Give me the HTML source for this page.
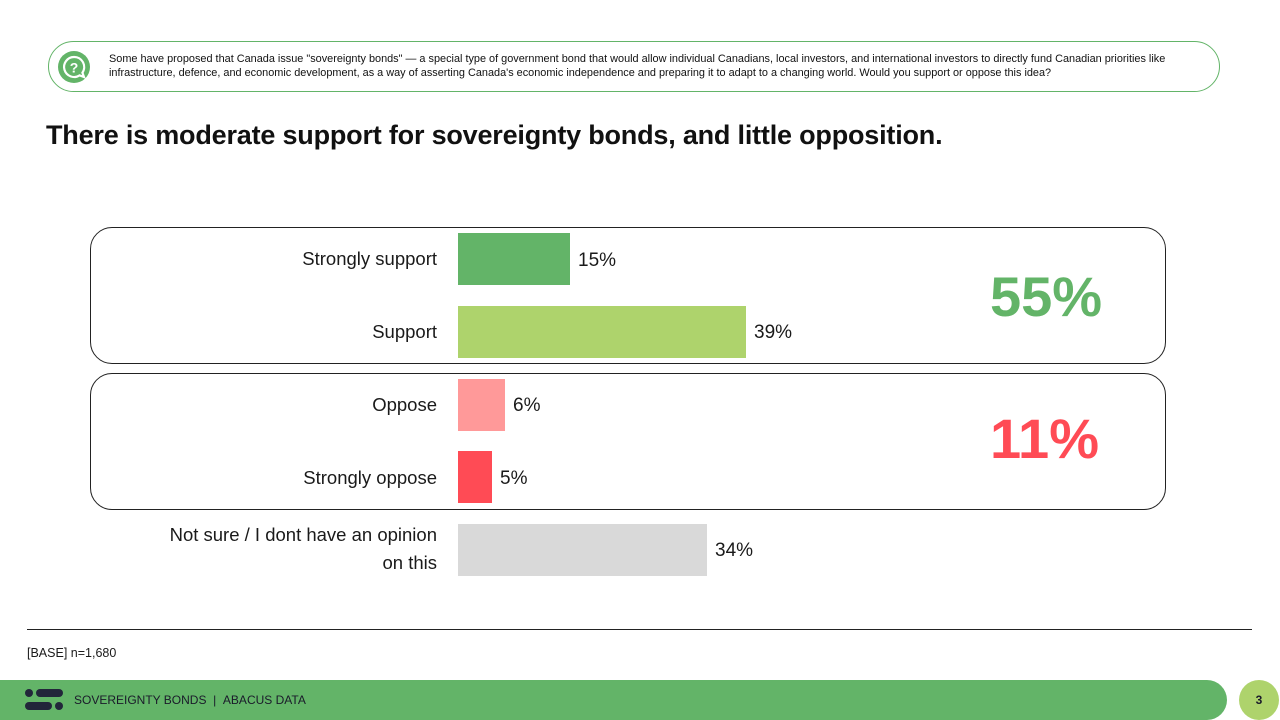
<!DOCTYPE html>
<html><head><meta charset="utf-8"><style>
*{margin:0;padding:0;box-sizing:border-box}
body{width:1280px;height:720px;background:#fff;position:relative;overflow:hidden;font-family:"Liberation Sans",sans-serif;color:#1a1a1a}
.abs{position:absolute}
.q{left:48px;top:41px;width:1172px;height:51px;border:1px solid #63b468;border-radius:26px}
.qt{left:109px;top:52px;width:1078px;font-size:10.9px;line-height:14px;color:#111}
.title{left:46px;top:120px;font-size:27px;font-weight:bold;color:#111;letter-spacing:-0.2px}
.box{border:1px solid #222;border-radius:22px;left:90px;width:1076px;height:137px}
.lab{right:843px;font-size:18.5px;text-align:right;color:#1a1a1a}
.bar{left:458px;height:52px}
.val{font-size:19px;color:#1a1a1a}
.big{font-size:56px;font-weight:bold;left:990px}
</style></head><body>
<div class="abs q"></div>
<svg class="abs" style="left:57px;top:50px" width="34" height="34" viewBox="0 0 34 34">
<circle cx="17" cy="17" r="16" fill="#63b468"/>
<path d="M17 7a10 10 0 1 0 5.5 18.4L27 27l-1.6-4.3A10 10 0 0 0 17 7z" fill="none" stroke="#fff" stroke-width="2.2"/>
<text x="17" y="22.5" text-anchor="middle" font-size="14" font-weight="bold" fill="#fff" font-family="Liberation Sans">?</text>
</svg>
<div class="abs qt">Some have proposed that Canada issue "sovereignty bonds" — a special type of government bond that would allow individual Canadians, local investors, and international investors to directly fund Canadian priorities like infrastructure, defence, and economic development, as a way of asserting Canada's economic independence and preparing it to adapt to a changing world. Would you support or oppose this idea?</div>
<div class="abs title">There is moderate support for sovereignty bonds, and little opposition.</div>
<div class="abs box" style="top:227px"></div>
<div class="abs box" style="top:373px"></div>
<div class="abs lab" style="top:248px">Strongly support</div>
<div class="abs lab" style="top:321px">Support</div>
<div class="abs lab" style="top:394px">Oppose</div>
<div class="abs lab" style="top:467px">Strongly oppose</div>
<div class="abs lab" style="top:521px;line-height:28px">Not sure / I dont have an opinion<br>on this</div>
<div class="abs bar" style="top:233px;width:112px;background:#63b468"></div>
<div class="abs bar" style="top:306px;width:288px;background:#aed36c"></div>
<div class="abs bar" style="top:379px;width:47px;background:#ff9999"></div>
<div class="abs bar" style="top:451px;width:34px;background:#ff4b55"></div>
<div class="abs bar" style="top:524px;width:249px;background:#d9d9d9"></div>
<div class="abs val" style="left:578px;top:250px">15%</div>
<div class="abs val" style="left:754px;top:322px">39%</div>
<div class="abs val" style="left:513px;top:395px">6%</div>
<div class="abs val" style="left:500px;top:468px">5%</div>
<div class="abs val" style="left:715px;top:540px">34%</div>
<div class="abs big" style="top:264px;color:#63b468">55%</div>
<div class="abs big" style="top:406px;color:#ff4b55">11%</div>
<div class="abs" style="left:27px;top:629px;width:1225px;height:1px;background:#222"></div>
<div class="abs" style="left:27px;top:646px;font-size:12.5px">[BASE] n=1,680</div>
<div class="abs" style="left:0;top:680px;width:1227px;height:40px;background:#63b468;border-radius:0 20px 20px 0"></div>
<svg class="abs" style="left:24px;top:688px" width="40" height="24" viewBox="0 0 40 24">
<circle cx="5" cy="5" r="4" fill="#22263a"/><rect x="12" y="1" width="27" height="8" rx="4" fill="#22263a"/>
<rect x="1" y="14" width="27" height="8" rx="4" fill="#22263a"/><circle cx="35" cy="18" r="4" fill="#22263a"/>
</svg>
<div class="abs" style="left:74px;top:693px;font-size:12px;color:#1a1a2a">SOVEREIGNTY BONDS &nbsp;| &nbsp;ABACUS DATA</div>
<div class="abs" style="left:1239px;top:680px;width:40px;height:40px;border-radius:50%;background:#aed36c;font-size:12px;font-weight:bold;text-align:center;line-height:40px;color:#1a1a2a">3</div>
</body></html>
